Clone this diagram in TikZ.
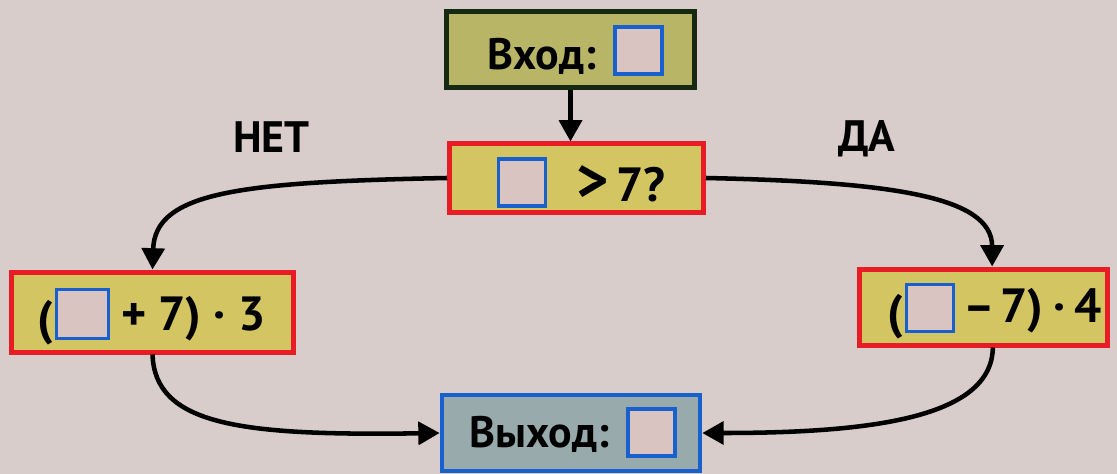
\documentclass[tikz,border=0pt]{standalone}
\usepackage{fontspec}
\setmainfont{PT Sans}
\usetikzlibrary{arrows.meta}
\definecolor{bgc}{RGB}{216,205,203}
\definecolor{yfill}{RGB}{211,198,98}
\definecolor{gfill}{RGB}{184,182,102}
\definecolor{bfill}{RGB}{152,170,172}
\definecolor{redline}{RGB}{232,28,36}
\definecolor{blueline}{RGB}{24,96,206}
\definecolor{greenline}{RGB}{22,42,18}
\definecolor{sqfill}{RGB}{218,196,194}
\tikzset{
  box/.style={rectangle, inner sep=0pt, line width=3.75pt},
  redbox/.style={box, draw=redline, fill=yfill},
  inbox/.style={box, draw=greenline, fill=gfill},
  outbox/.style={box, draw=blueline, line width=3pt, fill=bfill},
  sq/.style={rectangle, inner sep=0pt, draw=blueline, line width=2.6pt, fill=sqfill, minimum width=35pt, minimum height=35pt},
  txt/.style={inner sep=0pt, font=\fontsize{33}{38}\selectfont\bfseries},
  ftxt/.style={inner sep=0pt, font=\fontsize{36}{40}\selectfont\bfseries},
  conn/.style={line width=3.4pt, -{Triangle[length=16pt,width=17pt]}},
}
\begin{document}
\begin{tikzpicture}[x=0.75pt,y=-0.75pt]
\useasboundingbox (0,0) rectangle (1117,474);
\fill[bgc] (0,0) rectangle (1117,474);
% boxes
\node[inbox, minimum width=186pt, minimum height=57pt] (b1) at (570.5,50) {};
\node[redbox, minimum width=190.5pt, minimum height=51pt] (b2) at (576.5,178) {};
\node[redbox, minimum width=211.5pt, minimum height=60pt] (b3) at (152.5,312) {};
\node[redbox, minimum width=186pt, minimum height=57pt] (b4) at (983.5,307) {};
\node[outbox, minimum width=194pt, minimum height=57pt] (b5) at (571,433) {};
% squares
\node[sq] (s1) at (638.5,50.5) {};
\node[sq] (s2) at (522,182.5) {};
\node[sq, minimum width=39pt, minimum height=37pt] (s3) at (82.5,314) {};
\node[sq] (s4) at (930,308) {};
\node[sq] (s5) at (651.5,432.5) {};
% texts
\node[txt, anchor=base west] (t1) at (487,70) {Вход:};
\node[ftxt, anchor=base west] (t2) at (576,201) {{\fontsize{46}{46}\selectfont >}\,7?};
\node[ftxt, anchor=base east] (t3a) at (53,334) {(};
\node[ftxt, anchor=base west] (t3b) at (121,330) {+ 7) · 3};
\node[ftxt, anchor=base east] (t4a) at (903,328) {(};
\node[ftxt, anchor=base west] (t4b) at (963,322) {–\hspace{0.12em}7)\hspace{0.2em}·\hspace{0.2em}4};
\node[txt, anchor=base west] (t5) at (469,447) {Выход:};
\node[txt, anchor=base west] (no) at (233,153) {НЕТ};
\node[txt, anchor=base west] (yes) at (838,152) {ДА};
% connectors
\draw[conn] (b1.south) -- (b1.south |- b2.north);
\draw[conn] (b2.west) .. controls (240,182) and (155,192) .. (b3.north);
\draw[conn] (b2.east) .. controls (890,182) and (992,196) .. ([xshift=6.5pt]b4.north);
\draw[conn] (b3.south) .. controls (155,425) and (240,436) .. (b5.west);
\draw[conn] ([xshift=7pt]b4.south) .. controls (992,418) and (870,433) .. (b5.east);
\end{tikzpicture}
\end{document}
